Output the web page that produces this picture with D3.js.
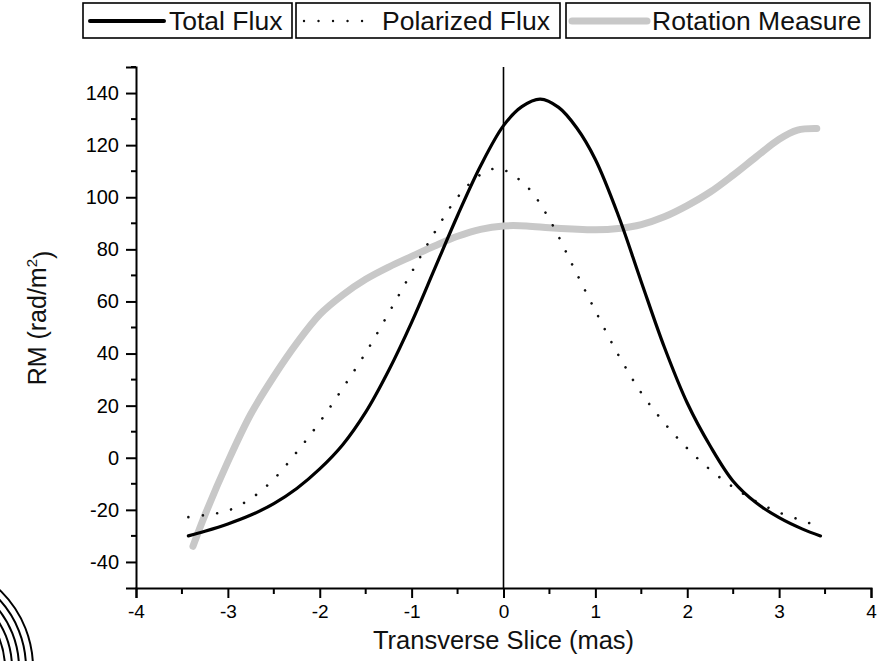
<!DOCTYPE html>
<html>
<head>
<meta charset="utf-8">
<script src="https://cdn.jsdelivr.net/npm/d3@7"></script>
<style>
  html, body { margin: 0; padding: 0; background: #fff; }
  svg { display: block; font-family: "Liberation Sans", Arial, sans-serif; }
</style>
</head>
<body>
<svg id="chart" width="888" height="661"></svg>
<script>
// ---- data ----
const xTicks = [-4, -3, -2, -1, 0, 1, 2, 3, 4];
const yTicks = [-40, -20, 0, 20, 40, 60, 80, 100, 120, 140];
const seriesNames = ["Total Flux", "Polarized Flux", "Rotation Measure"];

const totalX = [-3.43, -3.25, -3.0, -2.75, -2.5, -2.25, -2.0, -1.75, -1.5, -1.25, -1.0, -0.75, -0.5, -0.25, 0, 0.2, 0.4, 0.6, 0.8, 1.0, 1.25, 1.5, 1.75, 2.0, 2.25, 2.5, 2.75, 3.0, 3.25, 3.45];
const totalY = [-30, -28.2, -25.4, -22.0, -17.6, -11.8, -4.3, 5.0, 17.5, 33.5, 52, 72.5, 93, 112, 127.5, 134.8, 137.7, 134.5, 126.5, 114.5, 93, 67.5, 42.5, 21, 4.5, -9, -17.3, -23, -27.3, -30];

const polX = [-3.43, -3.25, -3.0, -2.75, -2.5, -2.25, -2.0, -1.75, -1.5, -1.25, -1.0, -0.75, -0.5, -0.25, -0.05, 0.25, 0.5, 0.75, 1.0, 1.25, 1.5, 1.75, 2.0, 2.25, 2.5, 2.75, 3.0, 3.25, 3.44];
const polY = [-22.8, -22.0, -20.3, -15.7, -8.2, 2.2, 13.7, 26.7, 40.3, 55.5, 71.2, 86.5, 100, 108.7, 111, 104.3, 91.5, 74, 56.4, 39.5, 24.9, 13.4, 3.6, -4.6, -11.3, -16.8, -21, -24.1, -26.4];

const rmX = [-3.38, -3.25, -3.0, -2.75, -2.5, -2.25, -2.0, -1.75, -1.5, -1.25, -1.0, -0.75, -0.5, -0.25, 0, 0.25, 0.5, 0.75, 1.0, 1.25, 1.5, 1.75, 2.0, 2.25, 2.5, 2.75, 3.0, 3.2, 3.41];
const rmY = [-34, -22, -1.5, 16.8, 31.2, 44, 55, 62.5, 68.5, 73.2, 77.3, 81.3, 85, 87.7, 89, 89, 88.3, 87.8, 87.5, 88, 89.5, 92.5, 96.8, 102, 108.5, 115.5, 122.3, 125.8, 126.4];

// ---- layout ----
const svg = d3.select("#chart");
const x = d3.scaleLinear().domain([-4, 4]).range([136, 871]);
const y = d3.scaleLinear().domain([-50, 150]).range([588, 67]);

const FONT = '"Liberation Sans", Arial, sans-serif';
const fmt = d => String(d);

// decorative arcs at bottom-left (fragment of neighbouring figure)
const arcRadii = [108, 101, 94, 87, 80];
arcRadii.forEach(r => {
  const p = d3.path();
  p.arc(-75, 668, r, -Math.PI / 2, 0);
  svg.append("path").attr("d", p.toString())
    .attr("fill", "none").attr("stroke", "#000").attr("stroke-width", 2);
});

// axes
const xAxis = d3.axisBottom(x).tickValues(xTicks).tickSize(10).tickPadding(7).tickFormat(fmt);
const yAxis = d3.axisLeft(y).tickValues(yTicks).tickSize(10).tickPadding(7).tickFormat(fmt);

const gx = svg.append("g").attr("transform", `translate(0,${y(-50)})`).call(xAxis);
const gy = svg.append("g").attr("transform", `translate(${x(-4)},0)`).call(yAxis);

[gx, gy].forEach(g => {
  g.select(".domain").attr("stroke", "#000").attr("stroke-width", 2);
  g.selectAll(".tick line").attr("stroke", "#000").attr("stroke-width", 2);
  g.selectAll(".tick text").attr("fill", "#000").style("font-family", FONT).style("font-size", "20px");
});
gx.selectAll(".tick text").style("font-size", "19px");

// minor ticks
const xMinor = d3.range(-3.5, 4, 1);
const yMinor = d3.range(-30, 151, 20);
svg.append("g").selectAll("line").data(xMinor).join("line")
  .attr("x1", d => x(d)).attr("x2", d => x(d))
  .attr("y1", y(-50)).attr("y2", y(-50) + 6)
  .attr("stroke", "#000").attr("stroke-width", 2);
svg.append("g").selectAll("line").data(yMinor).join("line")
  .attr("x1", x(-4) - 5).attr("x2", x(-4))
  .attr("y1", d => y(d)).attr("y2", d => y(d))
  .attr("stroke", "#000").attr("stroke-width", 2);

// vertical line at x = 0
svg.append("line")
  .attr("x1", x(0)).attr("x2", x(0))
  .attr("y1", y(150)).attr("y2", y(-50))
  .attr("stroke", "#000").attr("stroke-width", 1.6);

// axis titles
svg.append("text")
  .attr("x", (x(-4) + x(4)) / 2).attr("y", 649)
  .attr("text-anchor", "middle")
  .style("font-family", FONT).style("font-size", "25.5px").attr("fill", "#111")
  .text("Transverse Slice (mas)");

const yt = svg.append("text")
  .attr("transform", `translate(46,${318}) rotate(-90)`)
  .attr("text-anchor", "middle")
  .style("font-family", FONT).style("font-size", "25px").attr("fill", "#111");
yt.append("tspan").text("RM (rad/m");
yt.append("tspan").attr("dy", "-0.6em").style("font-size", "15px").text("2");
yt.append("tspan").attr("dy", "0.6em").text(")");

// lines
const line = d3.line().x(d => x(d[0])).y(d => y(d[1])).curve(d3.curveCatmullRom.alpha(0.5));
const rmData = d3.zip(rmX, rmY);
const polData = d3.zip(polX, polY);
const totalData = d3.zip(totalX, totalY);

svg.append("path").datum(rmData).attr("d", line)
  .attr("fill", "none").attr("stroke", "#c8c8c8").attr("stroke-width", 7)
  .attr("stroke-linecap", "round");
svg.append("path").datum(polData).attr("d", line)
  .attr("fill", "none").attr("stroke", "#111").attr("stroke-width", 2.6)
  .attr("stroke-linecap", "round").attr("stroke-dasharray", "0.01 14.5");
svg.append("path").datum(totalData).attr("d", line)
  .attr("fill", "none").attr("stroke", "#000").attr("stroke-width", 3.2)
  .attr("stroke-linecap", "round");

// legend
const legendBoxes = [
  { x0: 83, x1: 292, lx0: 90, lx1: 164, tx: 169 },
  { x0: 296, x1: 560, lx0: 304, lx1: 370, tx: 382 },
  { x0: 566, x1: 870, lx0: 572, lx1: 647, tx: 652 }
];
const legendStyles = [
  { stroke: "#000", width: 4, dash: null },
  { stroke: "#111", width: 2.4, dash: "0.01 14.5" },
  { stroke: "#c8c8c8", width: 7, dash: null }
];
const lg = svg.append("g");
seriesNames.forEach((name, i) => {
  const b = legendBoxes[i], s = legendStyles[i];
  lg.append("rect").attr("x", b.x0).attr("y", 3).attr("width", b.x1 - b.x0).attr("height", 35)
    .attr("fill", "#fff").attr("stroke", "#000").attr("stroke-width", 1.6);
  const l = lg.append("line").attr("x1", b.lx0).attr("x2", b.lx1).attr("y1", 21).attr("y2", 21)
    .attr("stroke", s.stroke).attr("stroke-width", s.width).attr("stroke-linecap", "round");
  if (s.dash) l.attr("stroke-dasharray", s.dash);
  lg.append("text").attr("x", b.tx).attr("y", 30)
    .style("font-family", FONT).style("font-size", "26.5px").attr("fill", "#111")
    .text(name);
});
</script>
</body>
</html>
